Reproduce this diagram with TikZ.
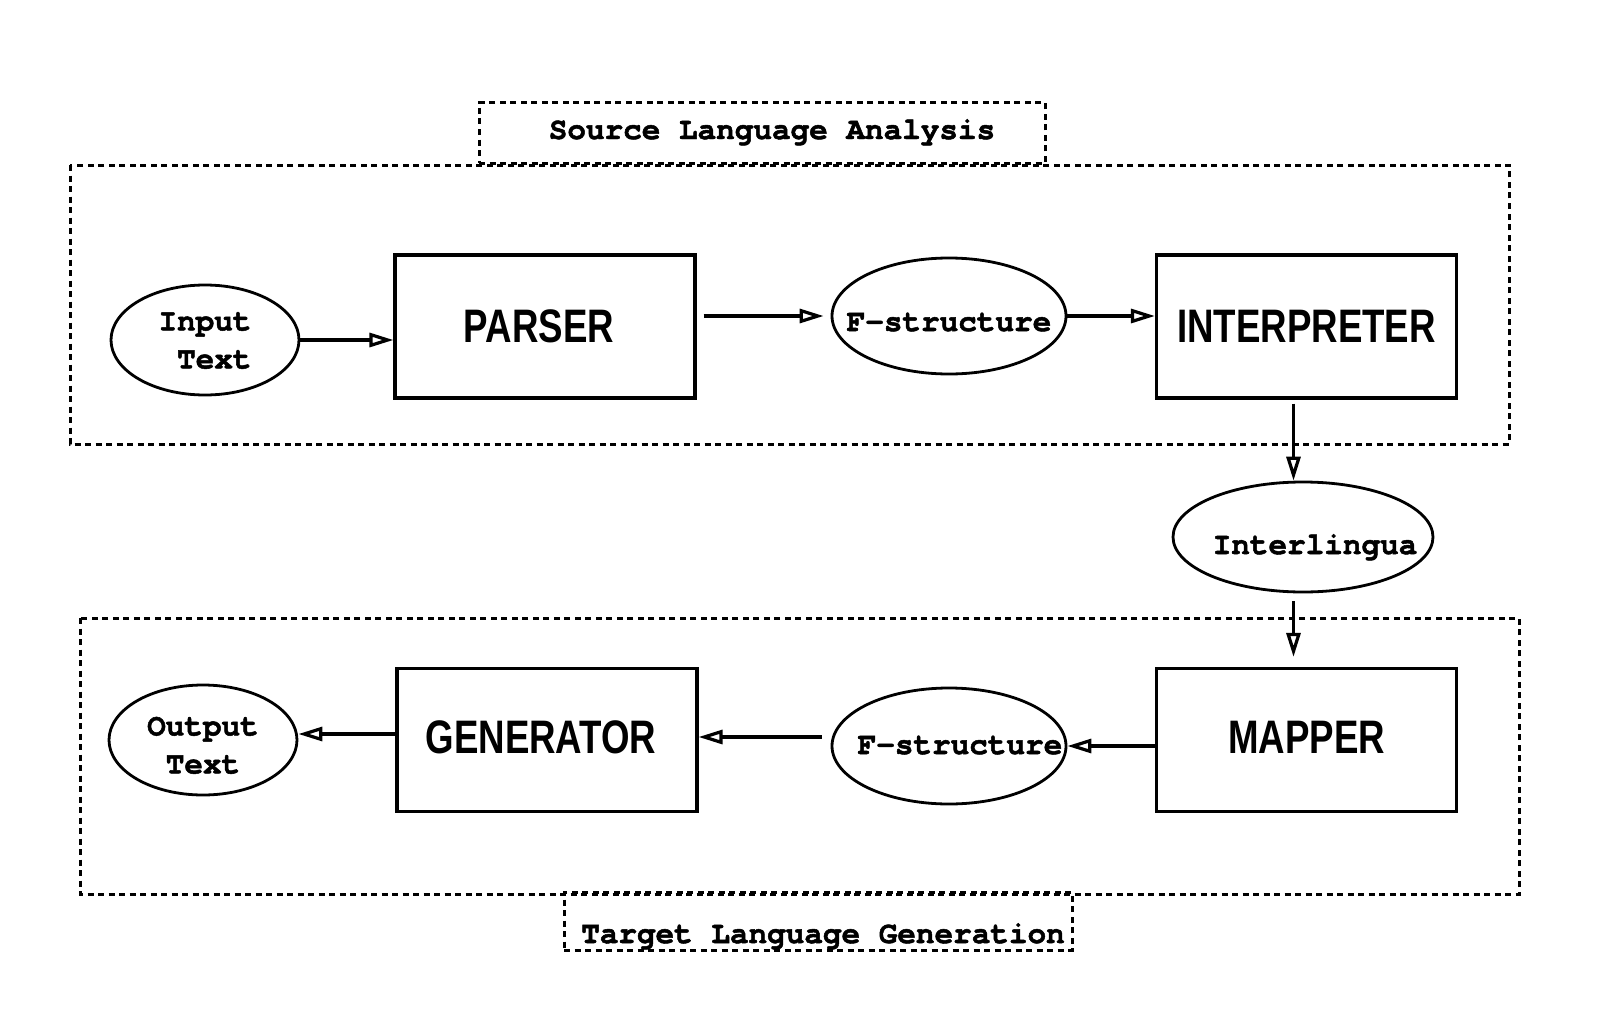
\documentclass[tikz,border=0pt]{standalone}
\usepackage{fontspec}
\usetikzlibrary{shapes.geometric,arrows.meta}
\newfontfamily\courfont{TeX Gyre Cursor}[BoldFeatures={FakeBold=1.6}]
\newfontfamily\helvfont{Liberation Sans}[FakeStretch=0.78]
\begin{document}
\begin{tikzpicture}[x=1pt,y=-1pt,
  procbox/.style={draw,line width=3.2pt,minimum width=300pt,minimum height=143pt,inner sep=0pt,font=\helvfont\bfseries\fontsize{47}{50}\selectfont},
  databubble/.style={draw,ellipse,line width=2.8pt,inner sep=0pt,font=\courfont\bfseries\fontsize{31}{38}\selectfont},
  frame/.style={line width=3pt,dash pattern=on 6pt off 4.5pt},
  labelbox/.style={draw,frame,inner sep=0pt,font=\courfont\bfseries\fontsize{31}{38}\selectfont},
  arr/.style={line width=3.2pt,-{Triangle[open,length=24pt,width=14pt]}},
]
\fill[white] (0,0) rectangle (1614,1022);
\useasboundingbox (0,0) rectangle (1614,1022);

% frames
\draw[frame] (70,165) rectangle (1509,444);
\draw[frame] (80,618) rectangle (1519,894);
\node[labelbox,minimum width=566pt,minimum height=60pt] (src) at (762,133) {\raisebox{-6pt}[0pt][0pt]{\makebox[0pt]{\hspace*{20pt}Source Language Analysis}}};
\node[labelbox,minimum width=508pt,minimum height=58pt] (tgt) at (818,921) {\raisebox{-22pt}[0pt][0pt]{\makebox[0pt]{\hspace*{10pt}Target Language Generation}}};

% nodes
\node[databubble,minimum width=188pt,minimum height=110pt] (in) at (205,340) {\raisebox{-8pt}[0pt][0pt]{\makebox[0pt]{\begin{tabular}{@{}c@{}}Input\\\phantom{I}Text\end{tabular}}}};
\node[procbox] (parser) at (545,326.5) {\makebox[0pt]{\hspace*{-12pt}PARSER}};
\node[databubble,minimum width=234pt,minimum height=116pt] (f1) at (949,316) {\raisebox{-15pt}[0pt][0pt]{\makebox[0pt]{F-structure}}};
\node[procbox] (interp) at (1306.5,326.5) {INTERPRETER};
\node[databubble,minimum width=260pt,minimum height=110pt] (il) at (1303,537) {\raisebox{-17pt}[0pt][0pt]{\makebox[0pt]{\hspace*{24pt}Interlingua}}};
\node[procbox] (mapper) at (1306.5,740) {\raisebox{5pt}{MAPPER}};
\node[databubble,minimum width=234pt,minimum height=116pt] (f2) at (949,746) {\raisebox{-8pt}[0pt][0pt]{\makebox[0pt]{\hspace*{22pt}F-structure}}};
\node[procbox] (gen) at (547,740) {\raisebox{5pt}{\makebox[0pt]{\hspace*{-12pt}GENERATOR}}};
\node[databubble,minimum width=188pt,minimum height=110pt] (out) at (203,740) {\raisebox{-13pt}[0pt][0pt]{\makebox[0pt]{\begin{tabular}{@{}c@{}}Output\\Text\end{tabular}}}};

% connectors
\draw[arr] (in.east) -- (in.east -| parser.west);
\draw[arr] ([xshift=7pt]parser.east |- f1.west) -- ([xshift=-7pt]f1.west);
\draw[arr] (f1.east) -- (f1.east -| interp.west);
\coordinate (d1) at ([xshift=-13pt]interp.south);
\coordinate (d2) at (d1 |- il.south);
\coordinate (d3) at (d1 |- mapper.north);
\draw[arr] ([yshift=-4pt]d1) -- (d1 |- il.north);
\draw[arr] ([yshift=-8pt]d2) -- ([yshift=10pt]d3);
\draw[arr] (mapper.west |- f2.east) -- (f2.east);
\coordinate (e1) at ([yshift=9pt]f2.west);
\draw[arr] ([xshift=-9pt]e1) -- (e1 -| gen.east);
\coordinate (e2) at ([yshift=6pt]out.east);
\draw[arr] (e2 -| gen.west) -- (e2);
\end{tikzpicture}
\end{document}
